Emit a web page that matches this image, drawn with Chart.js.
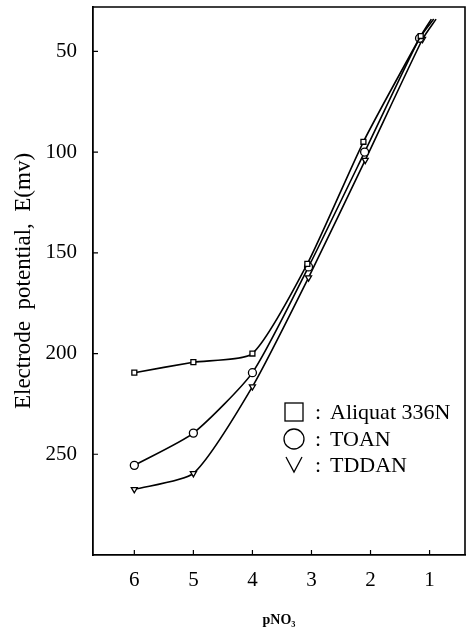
<!DOCTYPE html>
<html>
<head>
<meta charset="utf-8">
<script src="https://cdn.jsdelivr.net/npm/chart.js@4.4.1/dist/chart.umd.min.js"></script>
<style>
  html, body { margin: 0; padding: 0; background: #fff; }
  #wrap { width: 467px; height: 633px; }
</style>
</head>
<body>
<div id="wrap"><canvas id="chart"></canvas></div>
<script>
// values (pNO3 vs electrode potential in mV)
const xTicks = [6, 5, 4, 3, 2, 1];
const yTicks = [50, 100, 150, 200, 250];

const aliquatX = [6, 5, 4, 3.07, 2.12, 1.15, 0.97];
const aliquatE = [209.5, 204.3, 200, 155.5, 94.9, 42.4, 34];

const toanX = [6, 5, 4, 3.05, 2.1, 1.17, 0.93];
const toanE = [255.5, 239.5, 209.5, 157, 100, 43.5, 34];

const tddanX = [6, 5, 4, 3.05, 2.09, 1.12, 0.89];
const tddanE = [267.4, 259.5, 216.4, 162.3, 104, 44, 34];

const legendLabels = ['Aliquat 336N', 'TOAN', 'TDDAN'];

const serif = '"Liberation Serif", "DejaVu Serif", serif';

function toPoints(xs, ys) {
    return xs.map((x, i) => ({ x: x, y: ys[i] }));
}

// last point of each curve is only the end of the drawn line, no marker
function radii(n, r) {
    const arr = new Array(n).fill(r);
    arr[n - 1] = 0;
    return arr;
}

function makeSet(label, xs, ys, style, r, rot) {
    return {
        label: label,
        data: toPoints(xs, ys),
        borderColor: '#000',
        borderWidth: 1.6,
        backgroundColor: '#fff',
        pointStyle: style,
        pointRadius: radii(xs.length, r),
        pointRotation: rot,
        pointBorderColor: '#000',
        pointBorderWidth: 1.3,
        pointBackgroundColor: '#fff',
        tension: 0.2,
        fill: false
    };
}

// box lines, inward tick marks and the hand-style legend
const framePlugin = {
    id: 'frame',
    afterDraw(chart) {
        const ctx = chart.ctx;
        const a = chart.chartArea;
        const xs = chart.scales.x;
        const ys = chart.scales.y;
        ctx.save();
        ctx.strokeStyle = '#000';
        ctx.lineWidth = 1.6;
        ctx.beginPath();
        ctx.moveTo(a.left, a.top);
        ctx.lineTo(a.right, a.top);
        ctx.lineTo(a.right, a.bottom);
        ctx.stroke();

        ctx.lineWidth = 1.2;
        ctx.beginPath();
        xTicks.forEach(v => {
            const px = xs.getPixelForValue(v);
            ctx.moveTo(px, a.bottom);
            ctx.lineTo(px, a.bottom - 5);
        });
        yTicks.forEach(v => {
            const py = ys.getPixelForValue(v);
            ctx.moveTo(a.left, py);
            ctx.lineTo(a.left + 5, py);
        });
        ctx.stroke();

        // legend
        const lx = 294, ly = [412, 439, 465];
        ctx.lineWidth = 1.3;
        ctx.strokeRect(lx - 9, ly[0] - 9, 18, 18);
        ctx.beginPath();
        ctx.arc(lx, ly[1], 10, 0, Math.PI * 2);
        ctx.stroke();
        ctx.beginPath();
        ctx.moveTo(lx - 8, ly[2] - 8);
        ctx.lineTo(lx, ly[2] + 7);
        ctx.lineTo(lx + 8, ly[2] - 8);
        ctx.stroke();

        ctx.fillStyle = '#000';
        ctx.font = '22px ' + serif;
        ctx.textBaseline = 'middle';
        ctx.textAlign = 'left';
        legendLabels.forEach((t, i) => {
            ctx.fillText(':', 315, ly[i] + 1);
            ctx.fillText(t, 330, ly[i] + 1);
        });
        ctx.restore();
    }
};

const ctx = document.getElementById('chart').getContext('2d');
new Chart(ctx, {
    type: 'line',
    data: {
        datasets: [
            makeSet(legendLabels[0], aliquatX, aliquatE, 'rect', 3.5, 0),
            makeSet(legendLabels[1], toanX, toanE, 'circle', 4, 0),
            makeSet(legendLabels[2], tddanX, tddanE, 'triangle', 3.5, 180)
        ]
    },
    plugins: [framePlugin],
    options: {
        responsive: true,
        maintainAspectRatio: false,
        animation: false,
        layout: { autoPadding: false, padding: { top: 7, right: 2, left: 0, bottom: 0 } },
        plugins: {
            legend: { display: false },
            tooltip: { enabled: false }
        },
        scales: {
            x: {
                type: 'linear',
                reverse: true,
                min: 0.4,
                max: 6.7,
                afterBuildTicks: s => { s.ticks = xTicks.map(v => ({ value: v })); },
                afterFit: s => { s.height = 78; s.paddingLeft = 0; s.paddingRight = 0; },
                grid: { display: false },
                border: { display: true, color: '#000', width: 1.8 },
                ticks: {
                    color: '#000',
                    padding: 5,
                    font: { family: serif, size: 21 },
                    maxRotation: 0
                },
                title: {
                    display: true,
                    text: 'pNO\u2083',
                    color: '#000',
                    font: { family: serif, size: 14, weight: 'bold' },
                    padding: { top: 0, bottom: 4 }
                }
            },
            y: {
                type: 'linear',
                reverse: true,
                min: 28,
                max: 300,
                afterBuildTicks: s => { s.ticks = yTicks.map(v => ({ value: v })); },
                afterFit: s => { s.width = 93; s.paddingTop = 0; s.paddingBottom = 0; },
                grid: { display: false },
                border: { display: true, color: '#000', width: 1.8 },
                ticks: {
                    color: '#000',
                    padding: 8,
                    font: { family: serif, size: 21 }
                },
                title: {
                    display: true,
                    text: 'Electrode  potential,  E(mv)',
                    color: '#000',
                    font: { family: serif, size: 23 },
                    padding: { top: 10, bottom: 0 }
                }
            }
        }
    }
});
</script>
</body>
</html>
